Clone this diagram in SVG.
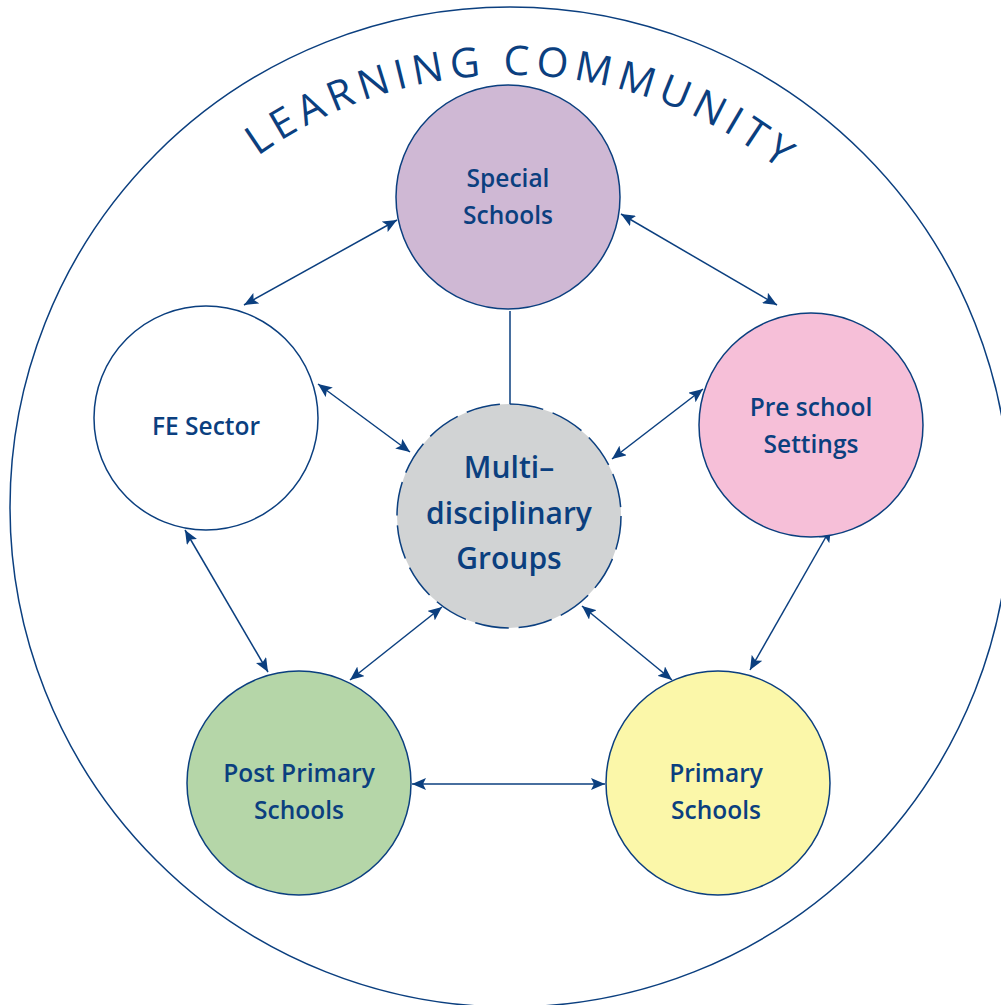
<svg xmlns="http://www.w3.org/2000/svg" width="1001" height="1005" viewBox="0 0 1001 1005">
<style>
.node{stroke:#0b3f7f;stroke-width:1.5}
.lbl{font-family:"Open Sans","Liberation Sans",sans-serif;font-weight:600;font-size:24.5px;fill:#0b3f7f;text-anchor:middle}
.big{font-size:30px}
.conn{stroke:#0b3f7f;stroke-width:1.5;fill:none}
.title{font-family:"Open Sans","Liberation Sans",sans-serif;font-weight:500;font-size:41px;fill:#0b3f7f;letter-spacing:6px}
</style>
<defs>
<marker id="ah" viewBox="0 0 14 12" refX="14" refY="6" markerWidth="14" markerHeight="12" markerUnits="userSpaceOnUse" orient="auto-start-reverse">
<path d="M0,0 L14,6 L0,12 L3,6 Z" fill="#0b3f7f"/>
</marker>
<path id="arc" d="M 78 507 A 432 432 0 0 1 942 507"/>
</defs>
<rect width="1001" height="1005" fill="#ffffff"/>
<g id="community">
<circle cx="510" cy="507" r="500" fill="none" stroke="#0b3f7f" stroke-width="1.5"/>
<text class="title"><textPath href="#arc" startOffset="51%" text-anchor="middle">LEARNING COMMUNITY</textPath></text>
</g>
<g id="connectors">
<line class="conn" x1="397" y1="220" x2="244" y2="305" marker-start="url(#ah)" marker-end="url(#ah)"/>
<line class="conn" x1="621" y1="214" x2="777" y2="305" marker-start="url(#ah)" marker-end="url(#ah)"/>
<line class="conn" x1="510" y1="311" x2="510" y2="404"/>
<line class="conn" x1="318" y1="384" x2="410" y2="452" marker-start="url(#ah)" marker-end="url(#ah)"/>
<line class="conn" x1="703" y1="389" x2="612" y2="459" marker-start="url(#ah)" marker-end="url(#ah)"/>
<line class="conn" x1="185" y1="530" x2="268" y2="672" marker-start="url(#ah)" marker-end="url(#ah)"/>
<line class="conn" x1="831" y1="528" x2="750" y2="670" marker-start="url(#ah)" marker-end="url(#ah)"/>
<line class="conn" x1="442" y1="607" x2="350" y2="680" marker-start="url(#ah)" marker-end="url(#ah)"/>
<line class="conn" x1="582" y1="606" x2="672" y2="680" marker-start="url(#ah)" marker-end="url(#ah)"/>
<line class="conn" x1="412" y1="784" x2="605" y2="784" marker-start="url(#ah)" marker-end="url(#ah)"/>
</g>
<g id="special">
<circle class="node" cx="508" cy="197" r="112" fill="#cfb8d4"/>
<text class="lbl" x="508" y="187">Special</text>
<text class="lbl" x="508" y="224">Schools</text>
</g>
<g id="fe">
<circle class="node" cx="206" cy="418" r="112" fill="#ffffff"/>
<text class="lbl" x="206" y="435">FE Sector</text>
</g>
<g id="preschool">
<circle class="node" cx="811" cy="425" r="112" fill="#f6bfd8"/>
<text class="lbl" x="811" y="416">Pre school</text>
<text class="lbl" x="811" y="453">Settings</text>
</g>
<g id="multi">
<circle class="node" cx="509" cy="516" r="112" fill="#d1d3d4" stroke-dasharray="34 10"/>
<text class="lbl big" x="509" y="478">Multi–</text>
<text class="lbl big" x="509" y="524">disciplinary</text>
<text class="lbl big" x="509" y="569">Groups</text>
</g>
<g id="postprimary">
<circle class="node" cx="299" cy="783" r="112" fill="#b5d6a8"/>
<text class="lbl" x="299" y="782">Post Primary</text>
<text class="lbl" x="299" y="819">Schools</text>
</g>
<g id="primary">
<circle class="node" cx="718" cy="783" r="112" fill="#fbf7a9"/>
<text class="lbl" x="716" y="782">Primary</text>
<text class="lbl" x="716" y="819">Schools</text>
</g>
</svg>
